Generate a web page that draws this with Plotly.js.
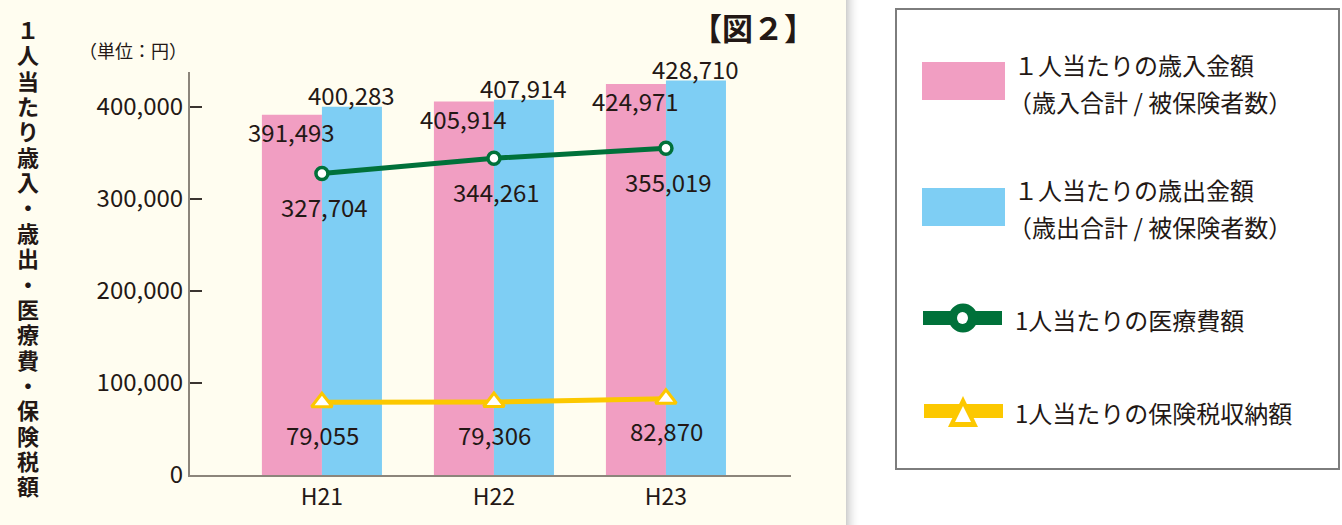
<!DOCTYPE html>
<html><head><meta charset="utf-8">
<script src="https://cdn.plot.ly/plotly-3.0.1.min.js"></script>
<style>html,body{margin:0;padding:0;background:#fff;}#chart{width:1342px;height:525px;}</style>
</head><body><div id="chart"></div>
<script>
const categories = ['H21', 'H22', 'H23'];
const revenuePerCapita = [391493, 405914, 424971];
const expenditurePerCapita = [400283, 407914, 428710];
const medicalPerCapita = [327704, 344261, 355019];
const taxPerCapita = [79055, 79306, 82870];
const yTickVals = [0, 100000, 200000, 300000, 400000];
const yTickText = ['0', '100,000', '200,000', '300,000', '400,000'];
const legendLabels = [
  ['１人当たりの歳入金額', '（歳入合計 / 被保険者数）'],
  ['１人当たりの歳出金額', '（歳出合計 / 被保険者数）'],
  ['1人当たりの医療費額'],
  ['1人当たりの保険税収納額']
];
const verticalTitle = '１人当たり歳入・歳出・医療費・保険税額';
const unitLabel = '（単位：円）';
const figTitle = '【図２】';

const PINK = '#f19ec2', BLUE = '#7ecef4', GREEN = '#00713a', YELLOW = '#fcc800', TXT = '#231815';
const FONT = '"Noto Sans CJK JP", "Noto Sans", sans-serif';
const fmt = v => v.toLocaleString('en-US');

// plot area in pixels
const L = 190, R = 791, T = 72, B = 475;
const px = x => (x - L) / (R - L);
const py = y => (B - y) / (B - T);

const traces = [
  {type: 'bar', x: categories, y: revenuePerCapita, marker: {color: PINK}, hoverinfo: 'skip'},
  {type: 'bar', x: categories, y: expenditurePerCapita, marker: {color: BLUE}, hoverinfo: 'skip'},
  {type: 'scatter', mode: 'lines+markers', x: categories, y: medicalPerCapita,
   line: {color: GREEN, width: 5},
   marker: {symbol: 'circle', size: 12, color: '#fff', line: {color: GREEN, width: 3.5}}},
  {type: 'scatter', mode: 'lines+markers', x: categories, y: taxPerCapita,
   line: {color: YELLOW, width: 5},
   marker: {symbol: 'triangle-up', size: 18, color: '#fff', line: {color: YELLOW, width: 3}}}
];

const annotations = [];
const lblFont = {family: FONT, size: 24, color: TXT};
categories.forEach((c, i) => {
  annotations.push({x: c, y: revenuePerCapita[i], xref: 'x', yref: 'y', text: fmt(revenuePerCapita[i]),
    showarrow: false, xshift: -30, yshift: -17, font: lblFont});
  annotations.push({x: c, y: expenditurePerCapita[i], xref: 'x', yref: 'y', text: fmt(expenditurePerCapita[i]),
    showarrow: false, xshift: 30, yshift: 12, font: lblFont});
  annotations.push({x: c, y: medicalPerCapita[i], xref: 'x', yref: 'y', text: fmt(medicalPerCapita[i]),
    showarrow: false, xshift: 3, yshift: -33, font: lblFont});
  annotations.push({x: c, y: taxPerCapita[i], xref: 'x', yref: 'y', text: fmt(taxPerCapita[i]),
    showarrow: false, xshift: 1, yshift: -32, font: lblFont});
});

// vertical title: one text block, one glyph per line
const vtText = Array.from(verticalTitle).map(ch => '<span style="font-size:22px"><b>' + ch + '</b></span>').join('<br>');
annotations.push({xref: 'paper', yref: 'paper', x: px(28), y: py(257), xanchor: 'center', yanchor: 'middle',
  text: vtText, showarrow: false, align: 'center', font: {family: FONT, size: 19.5, color: TXT}});
annotations.push({xref: 'paper', yref: 'paper', x: px(189), y: py(50), xanchor: 'right', yanchor: 'middle',
  text: unitLabel, showarrow: false, font: {family: FONT, size: 18, color: TXT}});
annotations.push({xref: 'paper', yref: 'paper', x: px(753), y: py(27), xanchor: 'center', yanchor: 'middle',
  text: '<b>' + figTitle + '</b>', showarrow: false, font: {family: FONT, size: 31, color: TXT}});

// legend texts
const legFont = {family: FONT, size: 24, color: TXT};
annotations.push({xref: 'paper', yref: 'paper', x: px(1012), y: py(64), xanchor: 'left', yanchor: 'middle', text: legendLabels[0][0], showarrow: false, font: legFont});
annotations.push({xref: 'paper', yref: 'paper', x: px(1006), y: py(101), xanchor: 'left', yanchor: 'middle', text: legendLabels[0][1], showarrow: false, font: legFont});
annotations.push({xref: 'paper', yref: 'paper', x: px(1012), y: py(189), xanchor: 'left', yanchor: 'middle', text: legendLabels[1][0], showarrow: false, font: legFont});
annotations.push({xref: 'paper', yref: 'paper', x: px(1006), y: py(226), xanchor: 'left', yanchor: 'middle', text: legendLabels[1][1], showarrow: false, font: legFont});
annotations.push({xref: 'paper', yref: 'paper', x: px(1013), y: py(319), xanchor: 'left', yanchor: 'middle', text: legendLabels[2][0], showarrow: false, font: legFont});
annotations.push({xref: 'paper', yref: 'paper', x: px(1013), y: py(412), xanchor: 'left', yanchor: 'middle', text: legendLabels[3][0], showarrow: false, font: legFont});

const P = (x0, y0, x1, y1) => ({xref: 'paper', yref: 'paper', x0: px(x0), x1: px(x1), y0: py(y0), y1: py(y1)});
const shapes = [];
// cream panel & shadow
shapes.push(Object.assign({type: 'rect', layer: 'below', fillcolor: '#fffdf0', line: {width: 0}}, P(0, 0, 846, 525)));
for (let k = 0; k < 14; k++) {
  shapes.push(Object.assign({type: 'rect', layer: 'below', fillcolor: 'rgba(90,90,90,' + (0.28 * Math.pow(1 - k / 14, 2)).toFixed(3) + ')', line: {width: 0}}, P(846 + k, 0, 847 + k, 525)));
}
// legend box
shapes.push(Object.assign({type: 'rect', layer: 'below', fillcolor: '#ffffff', line: {color: '#7d7d7d', width: 2}}, P(896, 9, 1339, 469)));
shapes.push(Object.assign({type: 'rect', layer: 'above', fillcolor: PINK, line: {width: 0}}, P(922, 62, 1005, 100)));
shapes.push(Object.assign({type: 'rect', layer: 'above', fillcolor: BLUE, line: {width: 0}}, P(922, 188, 1005, 226)));
shapes.push(Object.assign({type: 'rect', layer: 'above', fillcolor: GREEN, line: {width: 0}}, P(923, 311, 1002, 325)));
shapes.push(Object.assign({type: 'circle', layer: 'above', fillcolor: GREEN, line: {width: 0}}, P(948.5, 303.5, 977.5, 332.5)));
shapes.push(Object.assign({type: 'circle', layer: 'above', fillcolor: '#ffffff', line: {width: 0}}, P(957, 312, 968, 324)));
shapes.push(Object.assign({type: 'rect', layer: 'above', fillcolor: YELLOW, line: {width: 0}}, P(924, 404, 1003, 418)));
shapes.push({type: 'path', layer: 'above', xref: 'paper', yref: 'paper', fillcolor: YELLOW, line: {width: 0},
  path: 'M ' + px(963) + ' ' + py(396) + ' L ' + px(978) + ' ' + py(427) + ' L ' + px(948) + ' ' + py(427) + ' Z'});
shapes.push({type: 'path', layer: 'above', xref: 'paper', yref: 'paper', fillcolor: '#ffffff', line: {width: 0},
  path: 'M ' + px(963) + ' ' + py(406) + ' L ' + px(971) + ' ' + py(422) + ' L ' + px(955) + ' ' + py(422) + ' Z'});

const layout = {
  width: 1342, height: 525,
  margin: {l: L, r: 1342 - R, t: T, b: 525 - B, pad: 0},
  paper_bgcolor: '#ffffff', plot_bgcolor: 'rgba(0,0,0,0)',
  showlegend: false, barmode: 'group', bargap: 0.302, bargroupgap: 0,
  font: {family: FONT, color: TXT},
  xaxis: {type: 'category', range: [-0.767, 2.727], showline: true, linecolor: '#8c857b', linewidth: 2,
    ticks: '', showgrid: false, zeroline: false, tickfont: {family: FONT, size: 23, color: TXT}, fixedrange: true},
  yaxis: {range: [0, 438000], tickvals: yTickVals, ticktext: yTickText, showline: true, linecolor: '#8c857b', linewidth: 2,
    ticks: 'inside', ticklen: 12, tickcolor: '#3a3430', tickwidth: 1.5, showgrid: false, zeroline: false,
    tickfont: {family: FONT, size: 24, color: TXT}, ticklabelstandoff: 0, fixedrange: true},
  annotations: annotations, shapes: shapes
};
Plotly.newPlot('chart', traces, layout, {displayModeBar: false, staticPlot: true});
</script></body></html>
